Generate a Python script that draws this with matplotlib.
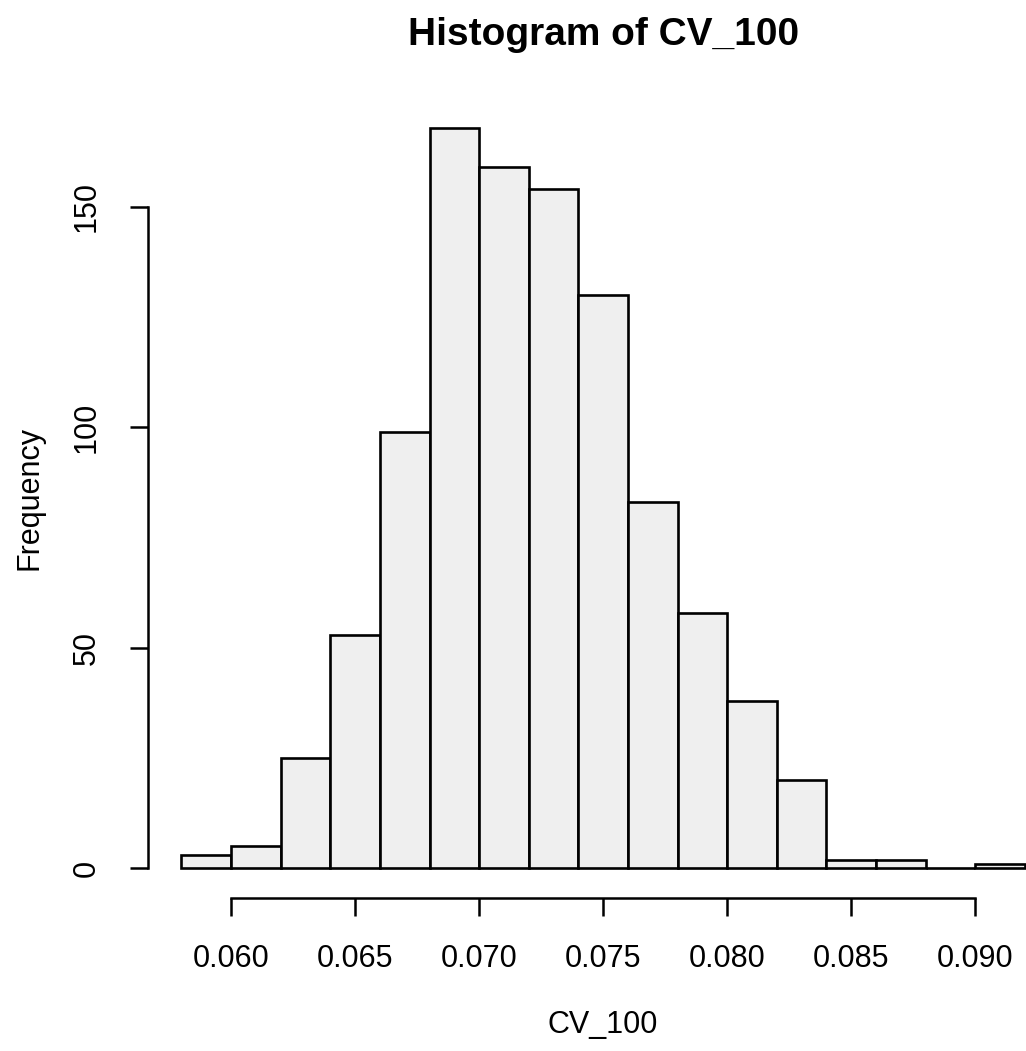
import matplotlib
matplotlib.use("Agg")
import matplotlib.pyplot as plt
import numpy as np

plt.rcParams['font.family'] = ['Liberation Sans', 'DejaVu Sans']

# histogram of CV_100 (bin edges 0.058 .. 0.092, width 0.002)
bin_edges = [0.058, 0.060, 0.062, 0.064, 0.066, 0.068, 0.070, 0.072, 0.074,
             0.076, 0.078, 0.080, 0.082, 0.084, 0.086, 0.088, 0.090, 0.092]
counts = [3, 5, 25, 53, 99, 168, 159, 154, 130, 83, 58, 38, 20, 2, 2, 0, 1]
x_ticks = [0.060, 0.065, 0.070, 0.075, 0.080, 0.085, 0.090]
x_ticklabels = ["0.060", "0.065", "0.070", "0.075", "0.080", "0.085", "0.090"]
y_ticks = [0, 50, 100, 150]

fig = plt.figure(figsize=(10.26, 10.51), dpi=100)
left, bottom, width, height = 0.1439, 0.1456, 0.888, 0.7612
ax = fig.add_axes([left, bottom, width, height])

edges = np.array(bin_edges)
ax.bar(edges[:-1], counts, width=np.diff(edges), align='edge',
       color='#efefef', edgecolor='black', linewidth=1.9)

# R style ranges: 4% padding on each side
xr = edges[-1] - edges[0]
ax.set_xlim(edges[0] - 0.04 * xr, edges[-1] + 0.04 * xr)
ax.set_ylim(-0.04 * max(counts), 1.04 * max(counts))

for s in ['top', 'right']:
    ax.spines[s].set_visible(False)
ax.spines['left'].set_bounds(y_ticks[0], y_ticks[-1])
ax.spines['bottom'].set_bounds(x_ticks[0], x_ticks[-1])
ax.spines['left'].set_linewidth(1.8)
ax.spines['bottom'].set_linewidth(1.8)

ax.set_xticks(x_ticks)
ax.set_xticklabels(x_ticklabels)
ax.set_yticks(y_ticks)
ax.set_yticklabels([str(v) for v in y_ticks], rotation=90, va='center')
ax.tick_params(axis='both', direction='out', length=13, width=1.8,
               labelsize=22, colors='black')
ax.tick_params(axis='x', pad=20)
ax.tick_params(axis='y', pad=20)

ax.set_xlabel("CV_100", fontsize=22, labelpad=26)
ax.set_ylabel("Frequency", fontsize=22, labelpad=20)

fig.text(left + width / 2, 1 - 45 / 1051, "Histogram of CV_100",
         ha='center', va='baseline', fontsize=28, fontweight='bold')

fig.savefig("out.png", dpi=100)
